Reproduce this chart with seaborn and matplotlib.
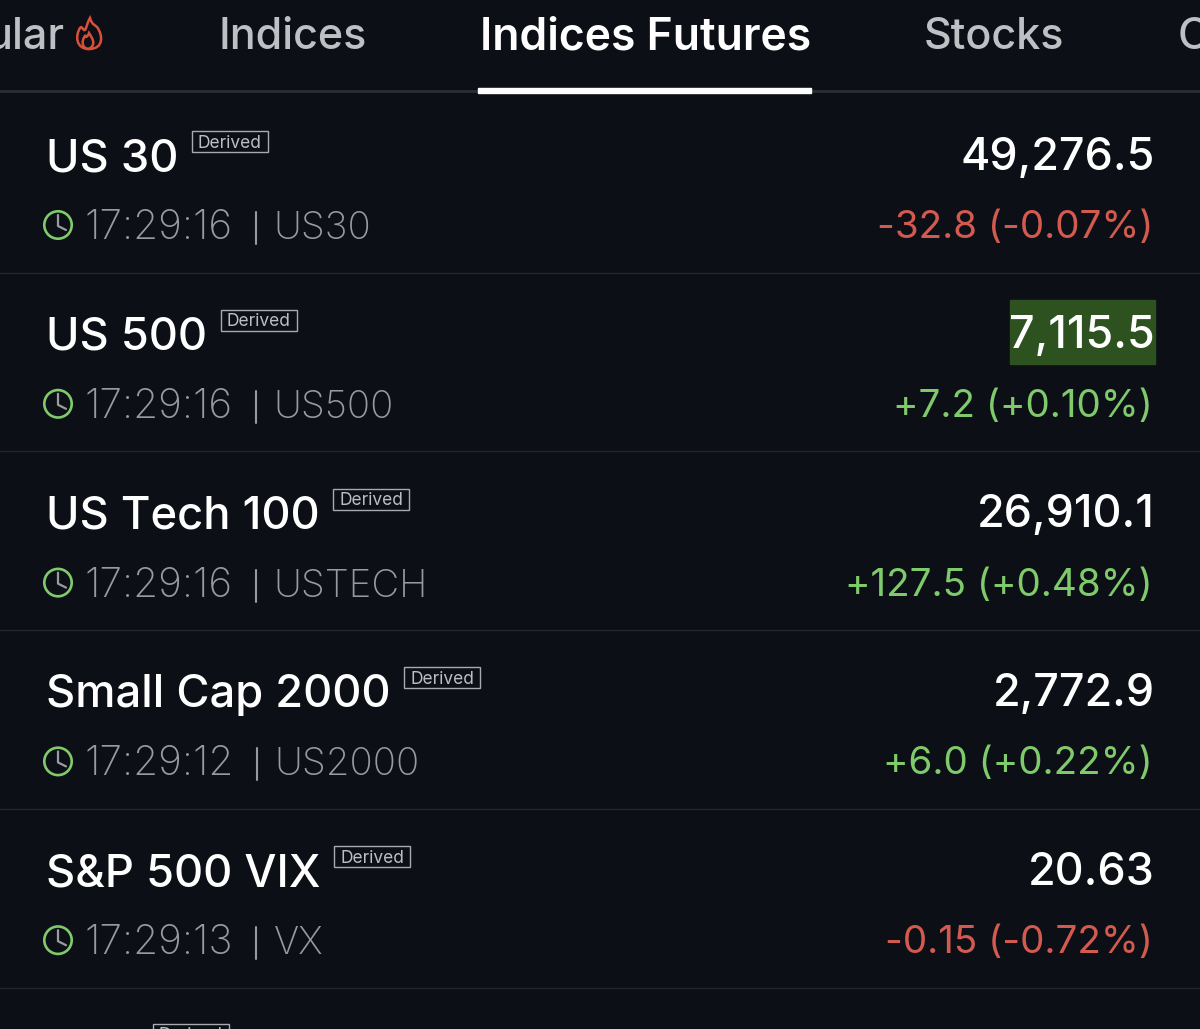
import matplotlib
matplotlib.use("Agg")
import matplotlib.pyplot as plt
import seaborn as sns
from matplotlib.patches import Rectangle, PathPatch
from matplotlib.path import Path

names = ["US 30", "US 500", "US Tech 100", "Small Cap 2000", "S&P 500 VIX"]
symbols = ["US30", "US500", "USTECH", "US2000", "VX"]
times = ["17:29:16", "17:29:16", "17:29:16", "17:29:12", "17:29:13"]
prices = ["49,276.5", "7,115.5", "26,910.1", "2,772.9", "20.63"]
changes = ["-32.8 (-0.07%)", "+7.2 (+0.10%)", "+127.5 (+0.48%)", "+6.0 (+0.22%)", "-0.15 (-0.72%)"]
tabs = ["ular", "Indices", "Stocks", "C"]

BG = "#0c1016"
GREEN = "#7fca6b"
RED = "#d45a50"
GREY = "#989a9e"
TAB_GREY = "#bfc0c4"
LINE = "#23262c"
STEP = 178.8

sns.set_theme(style="dark", rc={"axes.facecolor": BG, "figure.facecolor": BG})
plt.rcParams["font.family"] = ["Inter", "DejaVu Sans"]

fig = plt.figure(figsize=(12, 10.29), dpi=100)
ax = fig.add_axes([0, 0, 1, 1])
ax.set_xlim(0, 1200)
ax.set_ylim(1029, 0)
ax.axis("off")
fig.canvas.draw()
renderer = fig.canvas.get_renderer()


def right_edge(t):
    # pixel extent of a text, back in data units
    box = t.get_window_extent(renderer).transformed(ax.transData.inverted())
    return box.x1


# tab bar
ax.text(65, 49, tabs[0], fontsize=31, color=TAB_GREY, ha="right", va="baseline", fontweight="medium")
ax.text(219, 49, tabs[1], fontsize=31, color=TAB_GREY, va="baseline", fontweight="medium")
ax.text(480, 49, "Indices Futures", fontsize=32, color="white", va="baseline", fontweight="semibold")
ax.text(924, 49, tabs[2], fontsize=31, color=TAB_GREY, va="baseline", fontweight="medium")
ax.text(1178, 49, tabs[3], fontsize=31, color=TAB_GREY, va="baseline", fontweight="medium", clip_on=True)
ax.axhline(91, color="#2b2e34", lw=2)
ax.add_patch(Rectangle((478, 88), 333, 4.5, color="white", zorder=3))

# flame icon next to the first tab
C4 = Path.CURVE4
flame = Path(
    [(89, 49), (76, 49), (75, 36), (80, 28), (82, 25), (83, 31), (85, 30), (87, 27), (87, 23), (90, 18),
     (92, 25), (95, 25), (97, 27), (103, 35), (104, 49), (89, 49)],
    [Path.MOVETO] + [C4] * 15,
)
inner = Path(
    [(89, 49), (82, 49), (81, 41), (85, 36), (86, 38), (88, 36), (89, 33), (92, 38), (97, 44), (89, 49)],
    [Path.MOVETO] + [C4] * 9,
)
for p in (flame, inner):
    ax.add_patch(PathPatch(p, fc="none", ec="#d9503a", lw=1.8))

# rows
for i, name in enumerate(names):
    off = STEP * i
    t = ax.text(45.5, 171 + off, name, fontsize=32.6, color="white", va="baseline", fontweight="medium")
    x0 = right_edge(t) + 14
    ax.add_patch(Rectangle((x0, 131 + off), 76, 21, fc="none", ec="#a8aaad", lw=1))
    ax.text(x0 + 38, 147.5 + off, "Derived", fontsize=12.5, color="#bcbec1", ha="center", va="baseline")

    t = ax.text(84, 239 + off, times[i], fontsize=29.3, color=GREY, va="baseline", fontweight="light")
    x1 = right_edge(t)
    ax.plot([x1 + 23.5, x1 + 23.5], [212 + off, 244 + off], color=GREY, lw=1.5)
    ax.text(x1 + 41, 239 + off, symbols[i], fontsize=27.6, color=GREY, va="baseline", fontweight="light")

    # clock hands
    ax.plot([58, 58, 66], [215 + off, 226 + off, 230 + off], color="#9a9c9f", lw=1.6)

    if i == 1:
        ax.add_patch(Rectangle((1010, 300), 145, 64, color="#2d5220", zorder=1))
    ax.text(1155, 169.5 + off, prices[i], fontsize=32.3, color="white", ha="right", va="baseline", zorder=2, fontweight="medium")
    col = RED if changes[i].startswith("-") else GREEN
    ax.text(1153, 238 + off, changes[i], fontsize=27.8, color=col, ha="right", va="baseline")
    ax.axhline(272.5 + off, color=LINE, lw=1)

# clock rings, one per row
sns.scatterplot(x=[58] * len(names), y=[225 + STEP * i for i in range(len(names))], ax=ax, s=390,
                facecolor="none", edgecolor=GREEN, linewidth=1.9, legend=False, zorder=3)

# next row is cut by the bottom edge
ax.add_patch(Rectangle((152.5, 1023.5), 76, 21, fc="none", ec="#a8aaad", lw=1))
ax.text(190.5, 1040, "Derived", fontsize=12.5, color="#bcbec1", ha="center", va="baseline", clip_on=True)

ax.set_xlim(0, 1200)
ax.set_ylim(1029, 0)
fig.savefig("out.png", dpi=100, facecolor=BG)
